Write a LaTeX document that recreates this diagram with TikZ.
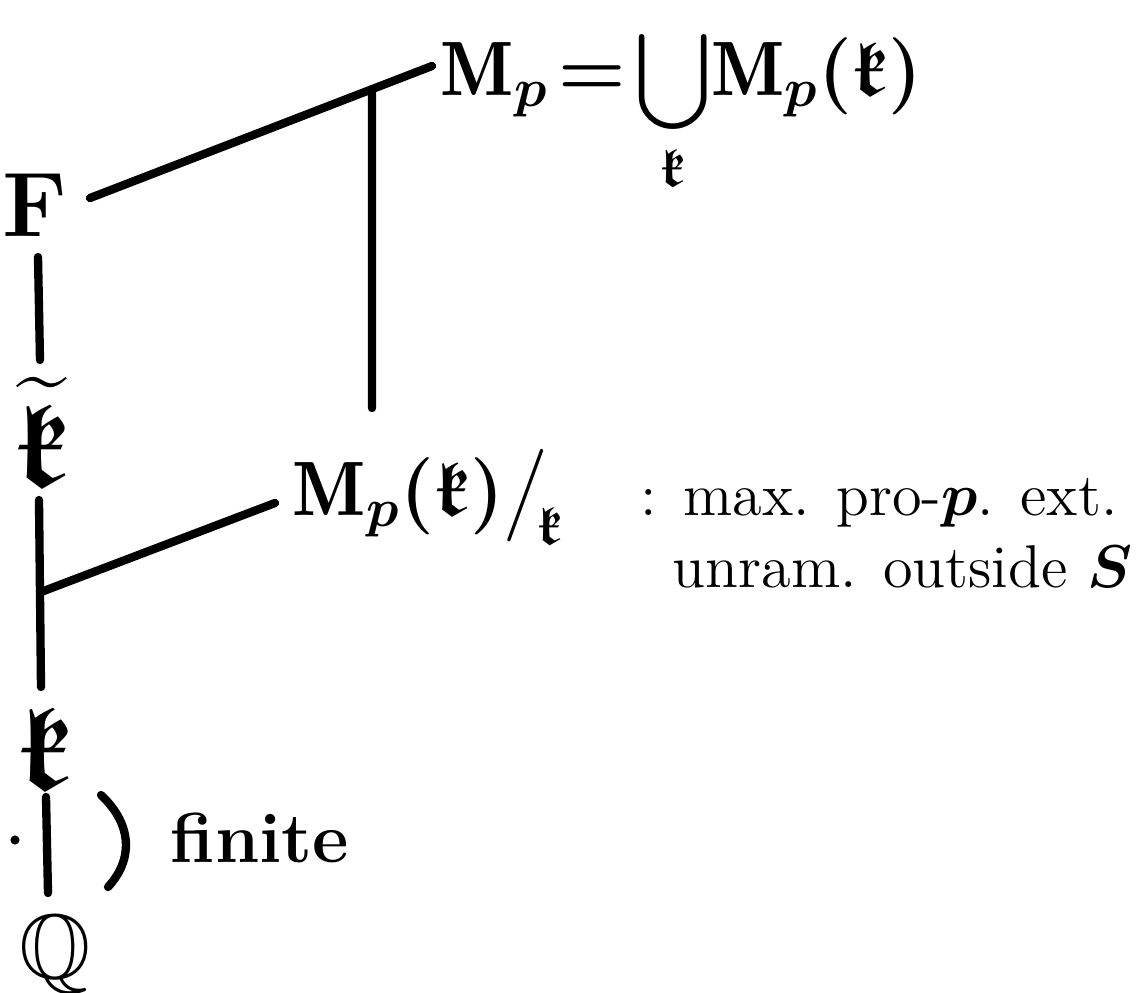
\RequirePackage{fix-cm}
\documentclass[tikz,border=0pt]{standalone}
\usepackage{amsmath,amssymb}
\usepackage{graphicx}
\usepackage{fontspec}
\usetikzlibrary{calc}
\newcommand{\fk}{\scalebox{1.3}{$\mathfrak k$}}
\begin{document}
\begin{tikzpicture}[x=0.24pt,y=-0.24pt,
  lbl/.style={inner sep=0pt, font=\fontsize{22}{26}\selectfont\bfseries\boldmath},
  mid/.style={inner sep=0pt, font=\fontsize{18.5}{22}\selectfont\bfseries\boldmath},
  txt/.style={inner sep=0pt, font=\fontsize{14.5}{17}\selectfont\boldmath},
  edge/.style={line width=2pt, line cap=round}]
\useasboundingbox (0,0) rectangle (1138,992);
% labels
\node[mid, anchor=base west] (Mp) at (440,95) {$\mathrm{M}_p \!=\! \mathop{\raisebox{-1pt}{\scalebox{0.88}{$\displaystyle\bigcup$}}}\limits_{\mathfrak k}\! \mathrm{M}_p(\mathfrak k)$};
\node[lbl] (F) at (35,205) {F};
\node[lbl] (kt) at (42,432) {$\widetilde{\text{\fk}}$};
\node[mid, anchor=base west] (Mpk) at (292,515) {$\mathrm{M}_p(\mathfrak k)\big/_{\!\mathfrak k}$};
\node[txt, anchor=base west] (d1) at (640,515) {: max. pro-$p$. ext.};
\node[txt, anchor=base west] (d2) at (672,587) {unram. outside $S$};
\node[lbl] (k) at (45,748) {\fk};
\node[mid, font=\fontsize{17}{20}\selectfont\bfseries, anchor=base west] (fin) at (170,862) {finite};
\node[lbl] (Q) at (55,955) {$\mathbb{Q}$};
% connector end points
\coordinate (a1) at (90,198);
\coordinate (a2) at (432,66);
\coordinate (j1) at ($(a1)!0.8246!(a2)$);
\coordinate (b1) at (372,408);
\coordinate (c1) at (38,257);
\coordinate (c2) at (40,360);
\coordinate (e1) at (39,500);
\coordinate (e2) at (41,687);
\coordinate (j2) at (41,592);
\coordinate (g1) at (275,503);
\coordinate (h1) at (46,797);
\coordinate (h2) at (48,893);
% connectors
\draw[edge] (a1) -- (a2);
\draw[edge] (j1) -- (b1);
\draw[edge] (c1) -- (c2);
\draw[edge] (e1) -- (e2);
\draw[edge] (j2) -- (g1);
\draw[edge] (h1) -- (h2);
% bracket for "finite"
\draw[edge] (101,795) .. controls (133,825) and (133,860) .. (108,887);
\fill (15,840) circle (1.1pt);
\end{tikzpicture}
\end{document}
